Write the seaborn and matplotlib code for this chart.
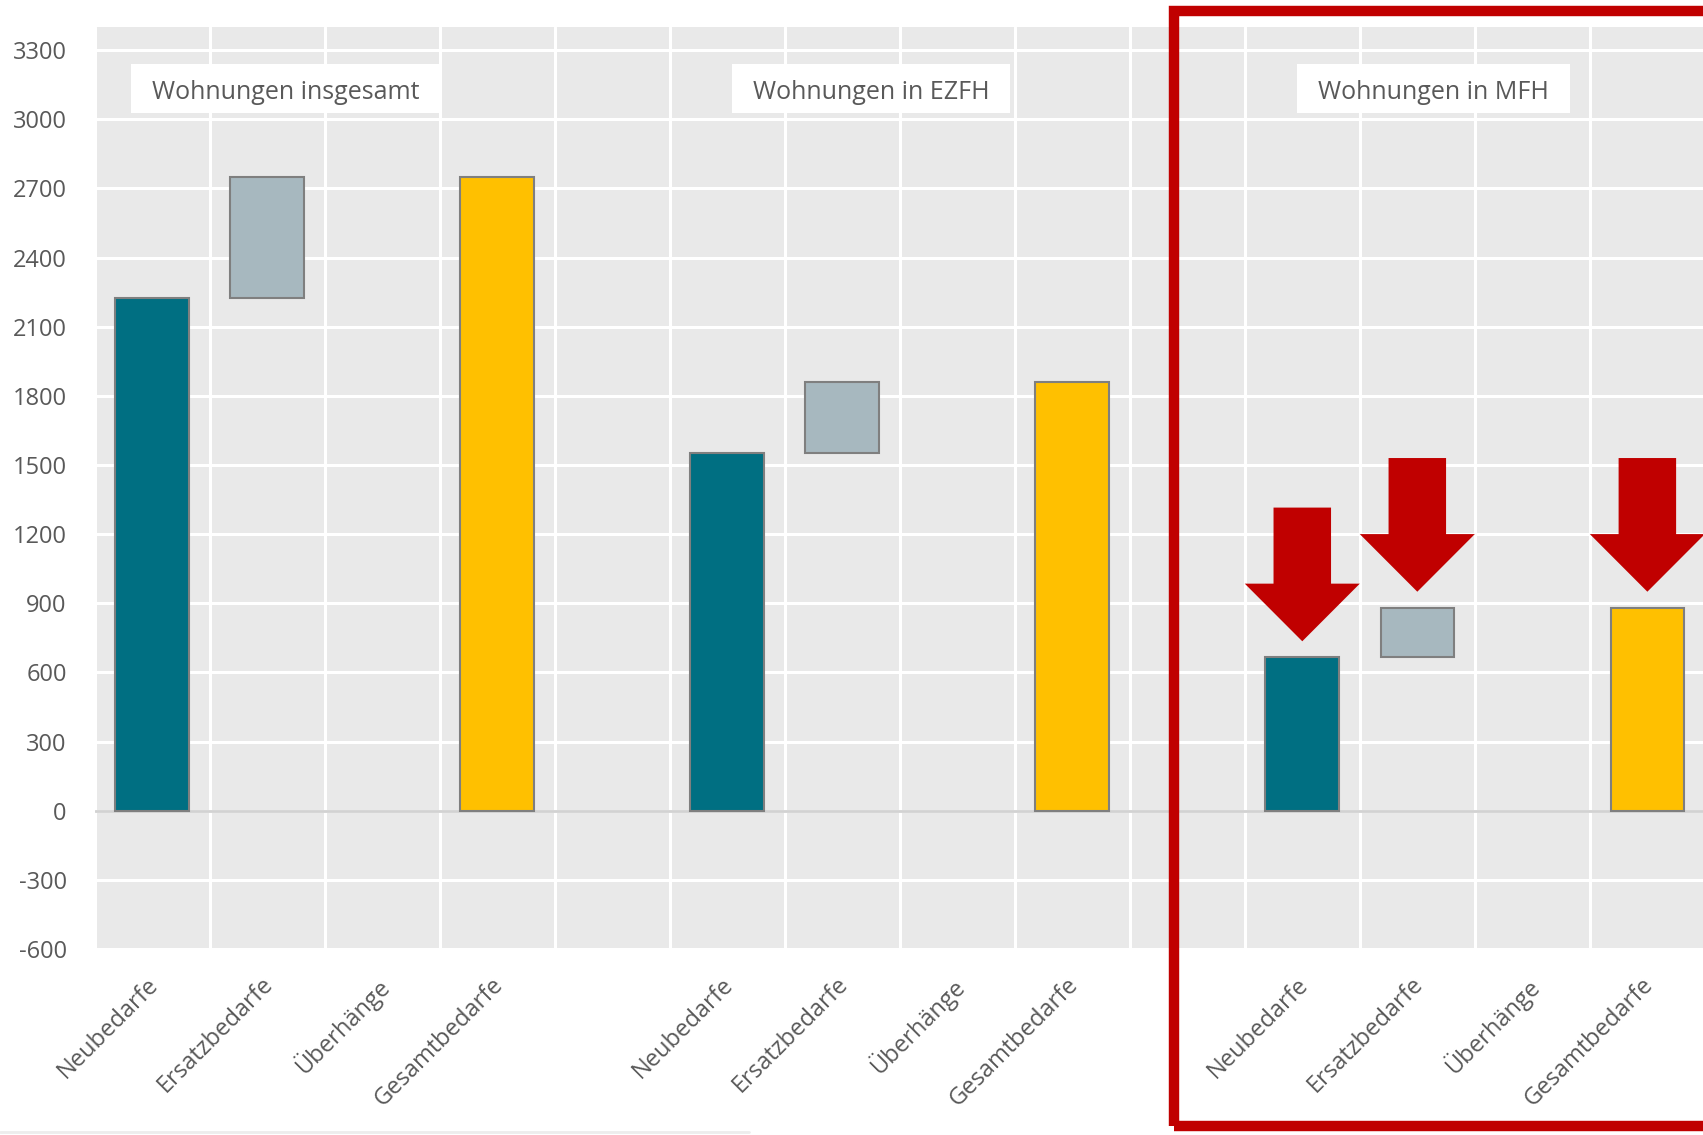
import numpy as np
import pandas as pd
import seaborn as sns
import matplotlib.pyplot as plt
import matplotlib.transforms as mtransforms
from matplotlib.patches import Rectangle
from matplotlib.lines import Line2D

# --- data ---
groups = ["Wohnungen insgesamt", "Wohnungen in EZFH", "Wohnungen in MFH"]
kinds = ["Neubedarfe", "Ersatzbedarfe", "Überhänge", "Gesamtbedarfe"]
neubedarf = [2225, 1550, 665]
ersatzbedarf = [525, 310, 215]
ueberhaenge = [0, 0, 0]
yticks = list(range(-600, 3301, 300))

colors = {
    "Neubedarfe": "#006F82",
    "Ersatzbedarfe": "#A7B8BF",
    "Gesamtbedarfe": "#FFC000",
}
title_x = [1.16, 6.25, 11.14]   # title box centres (slot units)
TEXT = "#595959"


def build_frame():
    rows, order = [], []
    for gi, g in enumerate(groups):
        neu, ers, ueb = neubedarf[gi], ersatzbedarf[gi], ueberhaenge[gi]
        vals = {
            "Neubedarfe": (neu, 0),
            "Ersatzbedarfe": (ers, neu),
            "Überhänge": (ueb, neu + ers),
            "Gesamtbedarfe": (neu + ers + ueb, 0),
        }
        for k in kinds:
            slot = f"{gi}-{k}"
            order.append(slot)
            h, b = vals[k]
            rows.append(dict(group=g, kind=k, slot=slot, height=h, bottom=b))
        if gi < len(groups) - 1:
            order.append(f"{gi}-gap")
    return pd.DataFrame(rows), order


def plot(df, order):
    sns.set_theme(style="darkgrid", rc={
        "axes.facecolor": "#E9E9E9",
        "grid.color": "white",
        "grid.linewidth": 2.2,
    })
    plt.rcParams["font.family"] = ["Open Sans", "DejaVu Sans"]

    fig = plt.figure(figsize=(17.03, 11.35), dpi=100)
    ax = fig.add_axes([0.0555, 0.1639, 0.9456, 0.8123])

    ax.axhline(0, color="#D2D2D2", lw=2, zorder=1.2)

    for k, c in colors.items():
        sub = df[(df["kind"] == k) & (df["height"] != 0)]
        sns.barplot(data=sub, x="slot", y="height", order=order, color=c,
                    saturation=1, width=0.64, edgecolor="#7F7F7F",
                    linewidth=1.5, errorbar=None,
                    bottom=sub["bottom"].to_numpy(), ax=ax, zorder=3)

    # red arrows over the MFH bars
    mfh = df[(df["group"] == groups[2]) & (df["height"] != 0)]
    for _, r in mfh.iterrows():
        xpos = order.index(r["slot"])
        tip = r["height"] + r["bottom"] + 70
        ax.arrow(xpos, tip + 580, 0, -580, width=0.5, head_width=1.0,
                 head_length=250, length_includes_head=True,
                 fc="#C00000", ec="none", zorder=6)

    ax.set_xlim(-0.5, len(order) - 0.5)
    ax.set_ylim(-600, 3400)
    ax.set_yticks(yticks)
    ax.set_yticklabels([str(v) for v in yticks])

    labels = [s.split("-", 1)[1] if not s.endswith("gap") else "" for s in order]
    ax.set_xticks(range(len(order)))
    ax.set_xticklabels(labels)
    ax.set_xticks(np.arange(-0.5, len(order), 1), minor=True)
    ax.grid(which="major", axis="x", visible=False)
    ax.grid(which="minor", axis="x", color="white", lw=2.2)
    ax.grid(which="major", axis="y", color="white", lw=2.2)

    ax.tick_params(axis="y", labelsize=17, labelcolor=TEXT, pad=20, length=0)
    ax.tick_params(axis="x", which="both", labelsize=17, labelcolor=TEXT,
                   pad=17, length=0)
    shift = mtransforms.ScaledTranslation(-6 / 100, 0, fig.dpi_scale_trans)
    for lab in ax.get_xticklabels():
        lab.set_rotation(45)
        lab.set_ha("right")
        lab.set_va("top")
        lab.set_rotation_mode("anchor")
        lab.set_transform(lab.get_transform() + shift)
    ax.set_xlabel("")
    ax.set_ylabel("")
    for s in ax.spines.values():
        s.set_visible(False)

    # panel titles in white boxes
    titles = [ax.text(tx, 3115, g, ha="center", va="center", fontsize=18,
                      color=TEXT, zorder=8)
              for g, tx in zip(groups, title_x)]
    fig.canvas.draw()
    renderer = fig.canvas.get_renderer()
    W, H = fig.bbox.width, fig.bbox.height
    for t in titles:
        bb = t.get_window_extent(renderer)
        cy = (bb.y0 + bb.y1) / 2 + 4
        ax.add_artist(Rectangle(((bb.x0 - 21) / W, (cy - 24.5) / H),
                                (bb.width + 42) / W, 49 / H,
                                transform=fig.transFigure, fc="white",
                                ec="none", zorder=7))

    # red highlight frame and faint bottom line
    fig.add_artist(Rectangle((0.6894, 0.0079), 0.35, 0.982,
                             transform=fig.transFigure, fill=False,
                             ec="#C00000", lw=7.5, clip_on=False))
    fig.add_artist(Line2D([0, 0.44], [0.0026, 0.0026], color="#EDEDED",
                          lw=2, transform=fig.transFigure))

    fig.savefig("out.png", dpi=100, facecolor="white")


def main():
    df, order = build_frame()
    plot(df, order)


if __name__ == "__main__":
    main()
